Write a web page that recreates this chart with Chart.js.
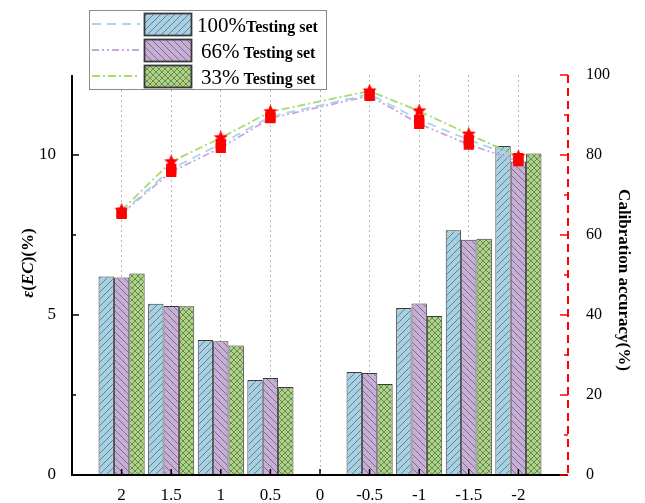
<!DOCTYPE html>
<html>
<head>
<meta charset="utf-8">
<script src="https://cdn.jsdelivr.net/npm/chart.js@4.4.0/dist/chart.umd.min.js"></script>
<style>
  html, body { margin: 0; padding: 0; background: #fff; }
  #wrap { width: 645px; height: 503px; }
</style>
</head>
<body>
<div id="wrap"><canvas id="chart" width="645" height="503"></canvas></div>
<script>
const categories = ['2', '1.5', '1', '0.5', '0', '-0.5', '-1', '-1.5', '-2'];
const seriesNames = ['100%', '66%', '33%'];
// ε(EC) bars, left axis
const errTest100 = [6.2, 5.35, 4.22, 2.97, null, 3.22, 5.22, 7.65, 10.28];
const errTest66 = [6.17, 5.28, 4.18, 3.03, null, 3.19, 5.36, 7.35, 9.8];
const errTest33 = [6.3, 5.27, 4.05, 2.75, null, 2.84, 4.97, 7.38, 10.05];
// calibration accuracy lines, right axis
const accTest100 = [65.5, 76.5, 82.8, 89.6, null, 95.2, 88.8, 83.8, 79.2];
const accTest66 = [65.3, 75.8, 81.8, 89.2, null, 94.8, 87.8, 82.6, 78.5];
const accTest33 = [66.2, 78.3, 84.3, 90.8, null, 96.0, 91.0, 85.2, 79.6];
const leftTicks = [0, 5, 10];
const leftMinor = [2.5, 7.5];
const rightTicks = [0, 20, 40, 60, 80, 100];
const rightMinor = [10, 30, 50, 70, 90];

const SERIF = '"Liberation Serif", "Times New Roman", serif';
const fillColors = ['#a6d0e4', '#c7aed6', '#a9d67f'];
const lineColors = ['#a9d4ee', '#c6a6dc', '#a6dc70'];
const lineDashes = [[9, 6], [7, 3, 2, 3, 2, 3], [8, 3, 2, 3]];

// empty slot at both ends so the axis is one category wider on each side
const pad = arr => [null, ...arr, null];
const labels = ['', ...categories, ''];

function hatch(bg, kind) {
  const s = kind === 'cross' ? 6 : 7;
  const c = document.createElement('canvas');
  c.width = s; c.height = s;
  const g = c.getContext('2d');
  g.fillStyle = bg;
  g.fillRect(0, 0, s, s);
  g.strokeStyle = '#4a4a4a';
  g.lineWidth = 0.6;
  g.beginPath();
  if (kind === 'fwd' || kind === 'cross') {
    g.moveTo(-1, s + 1); g.lineTo(s + 1, -1);
  }
  if (kind === 'back' || kind === 'cross') {
    g.moveTo(-1, -1); g.lineTo(s + 1, s + 1);
  }
  g.stroke();
  return g.createPattern(c, 'repeat');
}

function starImage(size) {
  const c = document.createElement('canvas');
  c.width = size; c.height = size;
  const g = c.getContext('2d');
  const r = size / 2, ri = r * 0.45;
  g.fillStyle = '#ff0000';
  g.beginPath();
  for (let i = 0; i < 10; i++) {
    const rad = i % 2 ? ri : r;
    const a = -Math.PI / 2 + i * Math.PI / 5;
    const x = r + rad * Math.cos(a), y = r + rad * Math.sin(a);
    i ? g.lineTo(x, y) : g.moveTo(x, y);
  }
  g.closePath();
  g.fill();
  return c;
}

const patterns = [hatch(fillColors[0], 'fwd'), hatch(fillColors[1], 'back'), hatch(fillColors[2], 'cross')];
const errData = [errTest100, errTest66, errTest33];
const accData = [accTest100, accTest66, accTest33];
const pointStyles = ['rect', 'rect', starImage(15)];

const datasets = [];
errData.forEach((d, i) => {
  datasets.push({
    type: 'bar',
    label: seriesNames[i],
    data: pad(d),
    backgroundColor: patterns[i],
    borderColor: '#3a3a3a',
    borderWidth: 1,
    categoryPercentage: 0.93,
    barPercentage: 1,
    yAxisID: 'y',
    order: 2
  });
});
accData.forEach((d, i) => {
  datasets.push({
    type: 'line',
    label: seriesNames[i] + ' accuracy',
    data: pad(d),
    borderColor: lineColors[i],
    borderDash: lineDashes[i],
    borderWidth: 1.8,
    pointStyle: pointStyles[i],
    pointRadius: i === 2 ? 7 : 6,
    pointBackgroundColor: '#ff0000',
    pointBorderColor: '#ff0000',
    spanGaps: true,
    tension: 0,
    yAxisID: 'y1',
    order: 1
  });
});

// inward ticks, axis lines, axis titles and the framed legend
const decor = {
  id: 'decor',
  afterDraw(chart) {
    const { ctx, chartArea: a, scales } = chart;
    const x = scales.x, y = scales.y, y1 = scales.y1;
    ctx.save();

    // left axis
    ctx.strokeStyle = '#000';
    ctx.lineWidth = 2;
    ctx.beginPath();
    ctx.moveTo(a.left, a.top); ctx.lineTo(a.left, a.bottom + 1);
    ctx.moveTo(a.left - 1, a.bottom); ctx.lineTo(a.right, a.bottom);
    ctx.stroke();
    ctx.lineWidth = 1.5;
    ctx.beginPath();
    leftTicks.forEach(v => { const p = y.getPixelForValue(v); ctx.moveTo(a.left, p); ctx.lineTo(a.left + 7, p); });
    leftMinor.forEach(v => { const p = y.getPixelForValue(v); ctx.moveTo(a.left, p); ctx.lineTo(a.left + 4, p); });
    categories.forEach((c, i) => { const p = x.getPixelForValue(i + 1); ctx.moveTo(p, a.bottom); ctx.lineTo(p, a.bottom - 6); });
    ctx.stroke();

    // right axis (red dashed)
    ctx.strokeStyle = '#ff0000';
    ctx.lineWidth = 2;
    ctx.setLineDash([8, 5]);
    ctx.beginPath();
    ctx.moveTo(a.right, a.top); ctx.lineTo(a.right, a.bottom);
    ctx.stroke();
    ctx.setLineDash([]);
    ctx.lineWidth = 1.5;
    ctx.beginPath();
    rightTicks.forEach(v => { const p = y1.getPixelForValue(v); ctx.moveTo(a.right, p); ctx.lineTo(a.right - 8, p); });
    rightMinor.forEach(v => { const p = y1.getPixelForValue(v); ctx.moveTo(a.right, p); ctx.lineTo(a.right - 4, p); });
    ctx.stroke();

    // left title ε(EC)(%)
    ctx.fillStyle = '#000';
    ctx.translate(33, 263);
    ctx.rotate(-Math.PI / 2);
    const parts = [['ε', 'italic bold'], ['(', 'bold'], ['EC', 'italic bold'], [')(%)', 'bold']];
    let w = 0;
    parts.forEach(p => { ctx.font = p[1] + ' 17px ' + SERIF; w += ctx.measureText(p[0]).width; });
    let cx = -w / 2;
    ctx.textBaseline = 'alphabetic';
    parts.forEach(p => { ctx.font = p[1] + ' 17px ' + SERIF; ctx.fillText(p[0], cx, 0); cx += ctx.measureText(p[0]).width; });
    ctx.setTransform(1, 0, 0, 1, 0, 0);

    // right title
    ctx.translate(619, 280);
    ctx.rotate(Math.PI / 2);
    ctx.font = 'bold 17px ' + SERIF;
    ctx.textAlign = 'center';
    ctx.fillText('Calibration accuracy(%)', 0, 0);
    ctx.setTransform(1, 0, 0, 1, 0, 0);
    ctx.textAlign = 'left';

    // legend
    ctx.fillStyle = '#fff';
    ctx.fillRect(89, 10, 237, 79);
    ctx.strokeStyle = '#8a8a8a';
    ctx.lineWidth = 1;
    ctx.strokeRect(89.5, 10.5, 237, 79);
    const rowTop = [13, 39, 65];
    seriesNames.forEach((name, i) => {
      const mid = rowTop[i] + 11;
      ctx.strokeStyle = lineColors[i];
      ctx.lineWidth = 1.8;
      ctx.setLineDash(lineDashes[i]);
      ctx.beginPath();
      ctx.moveTo(92, mid); ctx.lineTo(140, mid);
      ctx.stroke();
      ctx.setLineDash([]);
      ctx.fillStyle = patterns[i];
      ctx.fillRect(144, rowTop[i], 47, 22);
      ctx.strokeStyle = '#3a3a3a';
      ctx.strokeRect(144.5, rowTop[i] + 0.5, 47, 22);
      ctx.fillStyle = '#000';
      ctx.font = '21px ' + SERIF;
      const tx = i === 0 ? 197 : 201;
      ctx.fillText(name, tx, mid + 8);
      const nw = ctx.measureText(name).width + (i === 0 ? 0 : 4);
      ctx.font = 'bold 16px ' + SERIF;
      ctx.fillText('Testing set', tx + nw, mid + 8);
    });
    ctx.restore();
  }
};

new Chart(document.getElementById('chart'), {
  type: 'bar',
  data: { labels: labels, datasets: datasets },
  options: {
    responsive: false,
    animation: false,
    layout: { padding: { top: 75, left: 0, right: 0, bottom: 0 } },
    plugins: { legend: { display: false }, tooltip: { enabled: false } },
    scales: {
      x: {
        offset: false,
        grid: {
          offset: false,
          drawTicks: false,
          color: c => (c.index === 0 || c.index === labels.length - 1) ? 'rgba(0,0,0,0)' : '#b5b5b5',
          lineWidth: 1
        },
        border: { display: false, dash: [2, 3] },
        ticks: { autoSkip: false, maxRotation: 0, padding: 10, color: '#000', font: { family: SERIF, size: 17 } },
        afterFit: s => { s.height = 28; }
      },
      y: {
        position: 'left',
        min: 0,
        max: 12.5,
        afterBuildTicks: s => { s.ticks = leftTicks.map(v => ({ value: v })); },
        grid: { display: false },
        border: { display: false },
        ticks: { padding: 8, color: '#000', font: { family: SERIF, size: 17 } },
        afterFit: s => { s.width = 72; }
      },
      y1: {
        position: 'right',
        min: 0,
        max: 100,
        afterBuildTicks: s => { s.ticks = rightTicks.map(v => ({ value: v })); },
        grid: { display: false },
        border: { display: false },
        ticks: { padding: 10, color: '#000', font: { family: SERIF, size: 16 } },
        afterFit: s => { s.width = 77; }
      }
    }
  },
  plugins: [decor]
});
</script>
</body>
</html>
